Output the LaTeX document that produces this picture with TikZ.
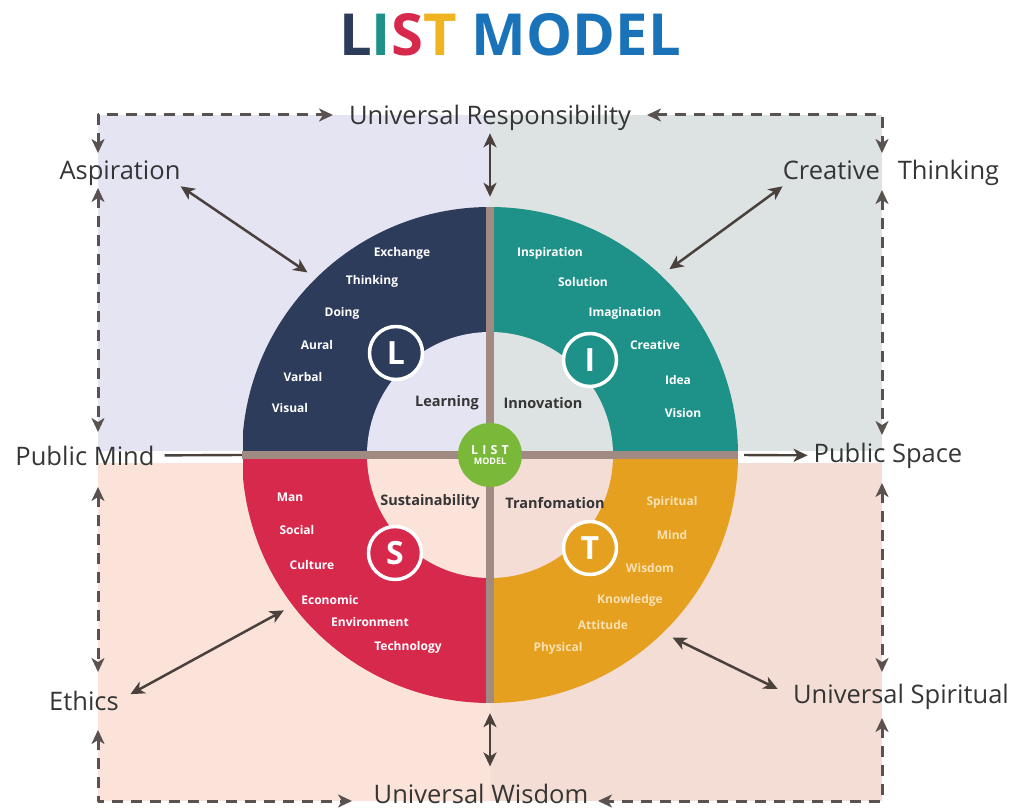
\documentclass[tikz,border=0pt]{standalone}
\usepackage{fontspec}
\setmainfont{Open Sans}
\usetikzlibrary{arrows.meta}
\definecolor{lnavy}{HTML}{2C3C5A}
\definecolor{iteal}{HTML}{1E9288}
\definecolor{scrim}{HTML}{D6294C}
\definecolor{tgold}{HTML}{E5A020}
\definecolor{tyel}{HTML}{F0B322}
\definecolor{mblue}{HTML}{1A73B8}
\definecolor{bgl}{HTML}{E5E4F2}
\definecolor{bgi}{HTML}{DDE3E3}
\definecolor{bgs}{HTML}{FBE3DA}
\definecolor{bgt}{HTML}{F3DDD4}
\definecolor{barc}{HTML}{A08A82}
\definecolor{arr}{HTML}{4A403C}
\definecolor{dsh}{HTML}{5A5250}
\definecolor{lgreen}{HTML}{7AB83A}
\definecolor{txt}{HTML}{353535}
\definecolor{tcream}{HTML}{F9E0B0}
\begin{document}
\begin{tikzpicture}[x=1pt,y=-1pt,>={Stealth[length=14pt,width=13pt,inset=4pt]},line join=round,
  outer/.style={anchor=base,inner sep=0pt,text=txt,font=\fontsize{25.5}{28}\selectfont},
  item/.style={inner sep=0pt,text=white,font=\fontsize{12}{14}\selectfont\bfseries},
  titem/.style={item,text=tcream},
  inlabel/.style={inner sep=0pt,text=txt,font=\fontsize{14.5}{16}\selectfont\bfseries},
  badge/.style={circle,draw=white,line width=3.5pt,minimum size=53pt,inner sep=0pt,text=white,font=\fontsize{32}{32}\selectfont\bfseries},
  dashlink/.style={<->,dsh,line width=3pt,dash pattern=on 11pt off 8pt},
  biarrow/.style={<->,arr,line width=2.5pt}]
\useasboundingbox (0,0) rectangle (1021,810);
% quadrant backgrounds
\fill[bgl] (98,115) rectangle (490,451);
\fill[bgi] (490,115) rectangle (882,451);
\fill[bgs] (98,463) rectangle (490,801);
\fill[bgt] (490,463) rectangle (882,801);
% ring quarters
\foreach \qx/\qy/\bg/\rc in {243/207/bgl/lnavy,490/207/bgi/iteal,243/455/bgs/scrim,490/455/bgt/tgold}{
  \begin{scope}
    \clip (\qx,\qy) rectangle ++(248,248);
    \fill[\rc] (490,455) circle[radius=248];
    \fill[\bg] (490,455) circle[radius=123];
  \end{scope}
}
\node[circle,minimum size=496pt,inner sep=0pt] (ring) at (490,455) {};
\node[circle,minimum size=516pt,inner sep=0pt] (rim) at (490,455) {};
\draw[barc,line width=8pt] (ring.north) -- (ring.south);
\draw[barc,line width=8pt] (ring.west) -- (ring.east);
\node[circle,fill=lgreen,minimum size=64pt,inner sep=0pt,text=white,align=center,font=\bfseries] (hub) at (490,455)
  {{\fontsize{12.5}{13}\selectfont L\,\,I\,\,S\,\,T}\\[-2pt]{\fontsize{9}{10}\selectfont MODEL}};
% letters
\node[badge,fill=lnavy] (bL) at (396,353) {L};
\node[badge,fill=iteal] (bI) at (590,360) {I};
\node[badge,fill=scrim] (bS) at (395,553) {S};
\node[badge,fill=tgold] (bT) at (590,548) {T};
\node[inlabel] (learn) at (447,403) {Learning};
\node[inlabel] (innov) at (543,403) {Innovation};
\node[inlabel] (sust) at (430,502) {Sustainability};
\node[inlabel] (tran) at (555,503) {Tranfomation};
% ring words
\foreach \t/\x/\y [count=\i] in {Exchange/402/253,Thinking/372/281,Doing/342/313,Aural/317/345,Varbal/303/377,Visual/290/408}
  \node[item] (l\i) at (\x,\y) {\t};
\foreach \t/\x/\y [count=\i] in {Inspiration/550/253,Solution/583/282,Imagination/625/313,Creative/655/345,Idea/678/380,Vision/683/413}
  \node[item] (i\i) at (\x,\y) {\t};
\foreach \t/\x/\y [count=\i] in {Man/290/497,Social/297/530,Culture/312/565,Economic/330/600,Environment/370/622,Technology/408/647}
  \node[item] (s\i) at (\x,\y) {\t};
\foreach \t/\x/\y [count=\i] in {Spiritual/672/502,Mind/672/535,Wisdom/650/568,Knowledge/630/600,Attitude/603/625,Physical/558/648}
  \node[titem] (t\i) at (\x,\y) {\t};
% outer labels
\node[outer] (ur) at (490,125) {Universal Responsibility};
\node[outer] (asp) at (120,180) {Aspiration};
\node[outer] (ct) at (891,180) {Creative\hspace{18pt}Thinking};
\node[outer] (pm) at (85,465) {Public Mind};
\node[outer] (ps) at (888,462) {Public Space};
\node[outer] (eth) at (84,710) {Ethics};
\node[outer] (us) at (901,703) {Universal Spiritual};
\node[outer] (uw) at (481,803) {Universal Wisdom};
\node[inner sep=0pt,font=\fontsize{58}{60}\selectfont\bfseries] (title) at (510,35)
  {\textcolor{lnavy}{L}\textcolor{iteal}{I}\textcolor{scrim}{S}\textcolor{tyel}{T} \textcolor{mblue}{MODEL}};
% dashed frame
\foreach \n/\x/\y in {aspN/98/153,urW/333/115,urE/647/115,ctN/882/153,aspS/98/188,pmN/98/432,pmS/98/487,ethN/98/672,
  ethS/98/730,uwW/352/801,ctS/882/190,psN/882/435,psS/882/483,usN/882/672,usS/882/718,uwE/598/801}
  \coordinate (\n) at (\x,\y);
\draw[dashlink] (aspN) |- (urW);
\draw[dashlink] (urE) -| (ctN);
\draw[dashlink] (aspS) -- (pmN);
\draw[dashlink] (pmS) -- (ethN);
\draw[dashlink] (ethS) |- (uwW);
\draw[dashlink] (ctS) -- (psN);
\draw[dashlink] (psS) -- (usN);
\draw[dashlink] (usS) |- (uwE);
% links to the ring
\draw[biarrow] (asp.south east) -- (rim.135);
\draw[biarrow] (ct.south west) -- (rim.46);
\draw[biarrow,shorten <=13pt] (eth.east) -- (rim.217);
\draw[biarrow,shorten <=17pt] (us.west) -- (rim.315);
\draw[biarrow,shorten <=2pt] (ur.south) -- (rim.north);
\draw[biarrow,shorten >=17pt] (rim.south) -- (rim.south |- uw.north);
\draw[arr,line width=2.4pt,shorten <=10pt] (pm.east) -- (ring.west);
\draw[->,arr,line width=2.4pt,shorten <=6pt,shorten >=6pt] (ring.east) -- (ps.west);
\end{tikzpicture}
\end{document}
